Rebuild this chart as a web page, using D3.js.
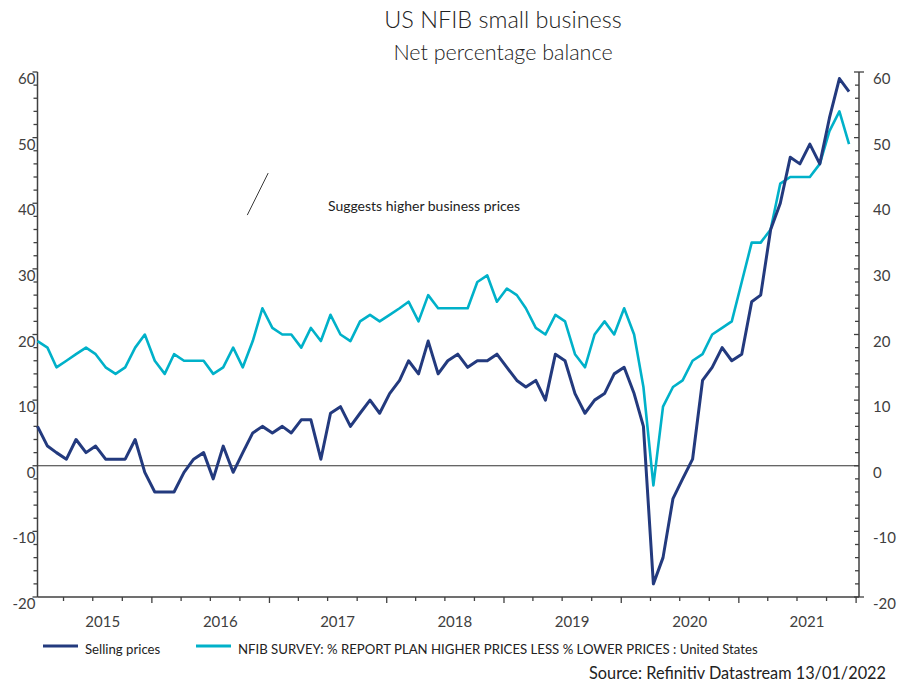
<!DOCTYPE html>
<html>
<head>
<meta charset="utf-8">
<script src="https://cdn.jsdelivr.net/npm/d3@7"></script>
<style>
  body { margin: 0; background: #fff; }
  svg { display: block; font-family: Lato, 'Open Sans', sans-serif; }
</style>
</head>
<body>
<div id="chart"></div>
<script>
// monthly, Jan 2015 .. Dec 2021
const sellingPrices = [
  6, 3, 2, 1, 4, 2, 3, 1, 1, 1, 4, -1,
  -4, -4, -4, -1, 1, 2, -2, 3, -1, 2, 5, 6,
  5, 6, 5, 7, 7, 1, 8, 9, 6, 8, 10, 8,
  11, 13, 16, 14, 19, 14, 16, 17, 15, 16, 16, 17,
  15, 13, 12, 13, 10, 17, 16, 11, 8, 10, 11, 14,
  15, 11, 6, -18, -14, -5, -2, 1, 13, 15, 18, 16,
  17, 25, 26, 36, 40, 47, 46, 49, 46, 53, 59, 57
]
const planHigherPrices = [
  19, 18, 15, 16, 17, 18, 17, 15, 14, 15, 18, 20,
  16, 14, 17, 16, 16, 16, 14, 15, 18, 15, 19, 24,
  21, 20, 20, 18, 21, 19, 23, 20, 19, 22, 23, 22,
  23, 24, 25, 22, 26, 24, 24, 24, 24, 28, 29, 25,
  27, 26, 24, 21, 20, 23, 22, 17, 15, 20, 22, 20,
  24, 20, 12, -3, 9, 12, 13, 16, 17, 20, 21, 22,
  28, 34, 34, 36, 43, 44, 44, 44, 46, 51, 54, 49
]
const years = [2015, 2016, 2017, 2018, 2019, 2020, 2021]
const yTicks = [-20, -10, 0, 10, 20, 30, 40, 50, 60]
const seriesNames = ['Selling prices', 'NFIB SURVEY: % REPORT PLAN HIGHER PRICES LESS % LOWER PRICES : United States']
const seriesColors = ['#233a7e', '#00b1c9']

const width = 900
const height = 687
const plotLeft = 37.5
const plotRight = 859
const plotTop = 72
const plotBottom = 597

const months = sellingPrices.map((_, i) => new Date(2015, i, 10))

const x = d3.scaleTime()
  .domain([new Date(2015, 0, 10), new Date(2022, 0, 10)])
  .range([plotLeft, plotRight])
const y = d3.scaleLinear().domain([-20, 60]).range([plotBottom, plotTop])

const svg = d3.select('#chart')
  .append('svg')
  .attr('width', width)
  .attr('height', height)

const ink = '#404040'

// titles
svg.append('text')
  .attr('x', 503).attr('y', 28)
  .attr('text-anchor', 'middle')
  .attr('font-size', 23.5)
  .attr('font-weight', 300)
  .attr('fill', '#222')
  .text('US NFIB small business')
svg.append('text')
  .attr('x', 503).attr('y', 60)
  .attr('text-anchor', 'middle')
  .attr('font-size', 21.5)
  .attr('font-weight', 300)
  .attr('fill', '#222')
  .text('Net percentage balance')

// zero line
svg.append('line')
  .attr('x1', plotLeft).attr('x2', plotRight)
  .attr('y1', y(0)).attr('y2', y(0))
  .attr('stroke', '#333').attr('stroke-width', 1)

// left axis
const leftAxis = svg.append('g').attr('transform', `translate(${plotLeft},0)`)
leftAxis.append('line')
  .attr('y1', plotTop).attr('y2', plotBottom)
  .attr('stroke', ink).attr('stroke-width', 1.5)
leftAxis.selectAll('.minor')
  .data(d3.range(-20, 61, 2))
  .join('line')
  .attr('x1', (d) => d % 10 === 0 ? -5 : -4).attr('x2', 0)
  .attr('y1', (d) => y(d)).attr('y2', (d) => y(d))
  .attr('stroke', ink).attr('stroke-width', 1.3)
leftAxis.selectAll('text')
  .data(yTicks)
  .join('text')
  .attr('x', -2)
  .attr('y', (d) => y(d) + 12)
  .attr('text-anchor', 'end')
  .attr('font-size', 15)
  .attr('fill', ink)
  .text((d) => d)

// right axis
const rightAxis = svg.append('g').attr('transform', `translate(${plotRight},0)`)
rightAxis.append('line')
  .attr('y1', plotTop).attr('y2', plotBottom)
  .attr('stroke', ink).attr('stroke-width', 1.5)
rightAxis.selectAll('.minor')
  .data(d3.range(-20, 61, 2))
  .join('line')
  .attr('x1', (d) => d % 10 === 0 ? -5 : -4).attr('x2', (d) => (d === 60 || d === -20) ? 5 : 0)
  .attr('y1', (d) => y(d)).attr('y2', (d) => y(d))
  .attr('stroke', ink).attr('stroke-width', 1.3)
rightAxis.selectAll('text')
  .data(yTicks)
  .join('text')
  .attr('x', 14)
  .attr('y', (d) => y(d) + 12)
  .attr('font-size', 15)
  .attr('fill', ink)
  .text((d) => d)

// bottom axis
const bottomAxis = svg.append('g').attr('transform', `translate(0,${plotBottom})`)
bottomAxis.append('line')
  .attr('x1', plotLeft).attr('x2', plotRight)
  .attr('stroke', ink).attr('stroke-width', 1.5)
bottomAxis.selectAll('.q')
  .data(d3.timeMonth.every(3).range(new Date(2015, 1, 1), new Date(2022, 1, 1)))
  .join('line')
  .attr('x1', (d) => x(d)).attr('x2', (d) => x(d))
  .attr('y1', 0).attr('y2', (d) => d.getMonth() === 0 ? 6 : 4)
  .attr('stroke', ink).attr('stroke-width', 1.3)
bottomAxis.selectAll('text')
  .data(years)
  .join('text')
  .attr('x', (d) => x(new Date(d, 7, 1)))
  .attr('y', 30)
  .attr('text-anchor', 'middle')
  .attr('font-size', 15)
  .attr('fill', ink)
  .text((d) => d)

// lines
const line = d3.line()
  .x((d, i) => x(months[i]))
  .y((d) => y(d))

svg.append('path')
  .datum(planHigherPrices)
  .attr('d', line)
  .attr('fill', 'none')
  .attr('stroke', seriesColors[1])
  .attr('stroke-width', 2.6)
  .attr('stroke-linejoin', 'round')
svg.append('path')
  .datum(sellingPrices)
  .attr('d', line)
  .attr('fill', 'none')
  .attr('stroke', seriesColors[0])
  .attr('stroke-width', 3)
  .attr('stroke-linejoin', 'round')

// annotation
svg.append('line')
  .attr('x1', x(new Date(2016, 9, 24))).attr('y1', y(38.2))
  .attr('x2', x(new Date(2016, 11, 28))).attr('y2', y(44.6))
  .attr('stroke', '#222').attr('stroke-width', 0.9)
svg.append('text')
  .attr('x', x(new Date(2017, 6, 2))).attr('y', y(39.6) + 5)
  .attr('font-size', 14)
  .attr('fill', '#222')
  .text('Suggests higher business prices')

// legend
const legend = svg.append('g').attr('transform', 'translate(0,646)')
const legendX = [43, 196]
seriesNames.forEach((name, i) => {
  legend.append('line')
    .attr('x1', legendX[i]).attr('x2', legendX[i] + 35)
    .attr('stroke', seriesColors[i]).attr('stroke-width', 3)
  legend.append('text')
    .attr('x', legendX[i] + 42).attr('y', 8)
    .attr('font-size', 13.2)
    .attr('fill', '#222')
    .text(name)
})

svg.append('text')
  .attr('x', 886).attr('y', 679)
  .attr('text-anchor', 'end')
  .attr('font-size', 16.3)
  .attr('fill', '#222')
  .text('Source: Refinitiv Datastream 13/01/2022')
</script>
</body>
</html>
